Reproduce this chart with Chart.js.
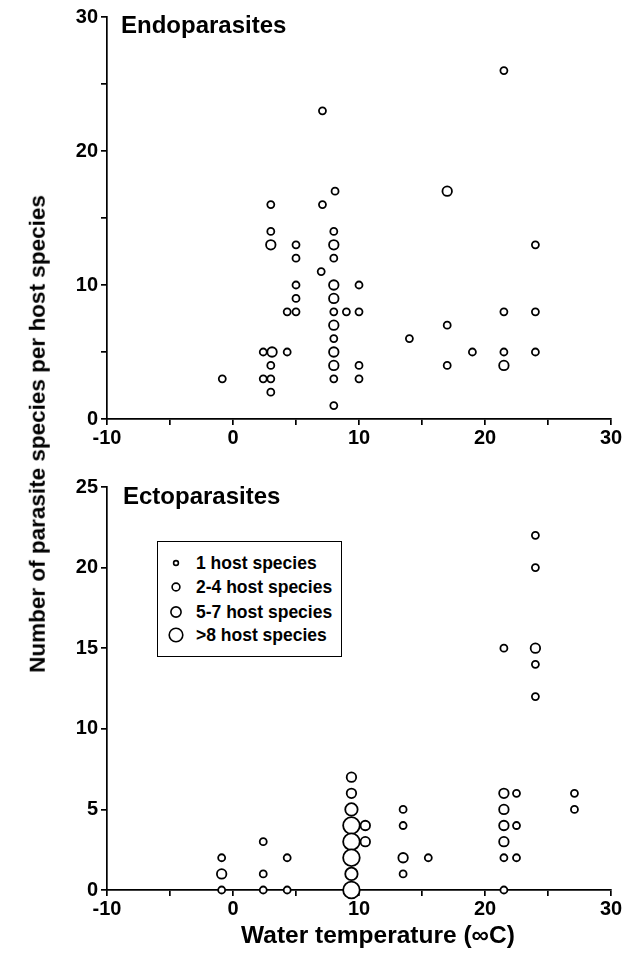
<!DOCTYPE html>
<html><head><meta charset="utf-8">
<script src="https://cdn.jsdelivr.net/npm/chart.js@4"></script>
<style>
html,body{margin:0;padding:0;background:#fff;}
#wrap{position:relative;width:636px;height:955px;overflow:hidden;font-family:"Liberation Sans",Arial,Helvetica,sans-serif;font-weight:bold;color:#000;}
canvas{position:absolute;left:0;}
.lbl{position:absolute;white-space:nowrap;line-height:1;}
#legend{position:absolute;left:157px;top:541px;width:183px;height:114px;border:1.5px solid #000;background:#fff;}
.row{position:absolute;left:0;height:20px;width:183px;}
.row svg{position:absolute;left:8px;top:0;}
.row span{position:absolute;left:38px;top:0;line-height:20px;font-size:17.5px;white-space:nowrap;}
</style></head><body>
<div id="wrap">
<canvas id="top" width="636" height="455" style="top:0;width:636px;height:455px"></canvas>
<canvas id="bot" width="636" height="500" style="top:455px;width:636px;height:500px"></canvas>
<div class="lbl" style="left:121px;top:13px;font-size:24px">Endoparasites</div>
<div class="lbl" style="left:123px;top:484px;font-size:24px">Ectoparasites</div>
<div class="lbl" style="left:38px;top:434px;font-size:22.5px;transform:translate(-50%,-50%) rotate(-90deg)">Number of parasite species per host species</div>
<div class="lbl" style="left:378px;top:935px;font-size:24.5px;transform:translate(-50%,-50%)">Water temperature (∞C)</div>
<div id="legend">
  <div class="row" style="top:11px"><svg width="20" height="20"><circle cx="10" cy="10" r="2.4" fill="#fff" stroke="#000" stroke-width="1.6"/></svg><span>1 host species</span></div>
  <div class="row" style="top:35px"><svg width="20" height="20"><circle cx="10" cy="10" r="3.9" fill="#fff" stroke="#000" stroke-width="1.6"/></svg><span>2-4 host species</span></div>
  <div class="row" style="top:60px"><svg width="20" height="20"><circle cx="10" cy="10" r="5.1" fill="#fff" stroke="#000" stroke-width="1.6"/></svg><span>5-7 host species</span></div>
  <div class="row" style="top:83px"><svg width="20" height="20"><circle cx="10" cy="10" r="6.8" fill="#fff" stroke="#000" stroke-width="1.6"/></svg><span>&gt;8 host species</span></div>
</div>
</div>
<script>
// ---- Data: Endoparasites (top panel) ----
// 1 host species
const endoX1 = [3, 7.1, 7.1, 8.1, 21.5, 3, 5, 8, 5, 8, 7, 5, 10, 5, 4.3, 5, 8, 9, 10, 8, 2.4, 4.3, 3, 10, -0.85, 2.4, 3, 8, 10, 3, 8, 24, 21.5, 24, 17, 14, 19, 21.5, 24, 17];
const endoY1 = [16, 16, 23, 17, 26, 14, 13, 14, 12, 12, 11, 10, 10, 9, 8, 8, 8, 8, 8, 6, 5, 5, 4, 4, 3, 3, 3, 3, 3, 2, 1, 13, 8, 8, 7, 6, 5, 5, 5, 4];
// 2-4 host species
const endoX2 = [3, 8, 8, 8, 8, 3.1, 8, 8, 21.5, 17];
const endoY2 = [13, 13, 10, 9, 7, 5, 5, 4, 4, 17];

// ---- Data: Ectoparasites (bottom panel) ----
// 1 host species
const ectoX1 = [-0.9, -0.9, 2.4, 2.4, 2.4, 4.3, 4.3, 24, 24, 21.5, 24, 24, 22.5, 27.1, 27.1, 13.5, 13.5, 22.5, 15.5, 21.5, 22.5, 13.5, 21.5];
const ectoY1 = [2, 0, 3, 1, 0, 2, 0, 22, 20, 15, 14, 12, 6, 6, 5, 5, 4, 4, 2, 2, 2, 1, 0];
// 2-4 host species
const ectoX2 = [-0.9, 9.4, 9.4, 10.5, 10.5, 24, 21.5, 21.5, 21.5, 21.5, 13.5];
const ectoY2 = [1, 7, 6, 4, 3, 15, 6, 5, 4, 3, 2];
// 5-7 host species
const ectoX3 = [9.4, 9.4];
const ectoY3 = [5, 1];
// >8 host species
const ectoX4 = [9.4, 9.4, 9.4, 9.4];
const ectoY4 = [4, 3, 2, 0];

// Axis ranges / labels
const xMin = -10, xMax = 30, xStep = 5, xLabelEvery = 10;
const endoYMax = 30, endoLabelEvery = 10;
const ectoYMax = 25, ectoLabelEvery = 5;

const FONT = "'Liberation Sans', Arial, Helvetica, sans-serif";
const RADII = [3.5, 4.75, 6.2, 8.3];

function ds(xs, ys, r) {
  return {
    data: xs.map((x, i) => ({x: x, y: ys[i]})),
    pointRadius: r, pointHoverRadius: r,
    pointBorderWidth: 1.8, pointBorderColor: '#000', pointBackgroundColor: '#fff',
    pointStyle: 'circle', showLine: false, clip: false
  };
}

function makeChart(id, datasets, yMax, yEvery, pad) {
  const tickFont = {family: FONT, weight: 'bold', size: 20};
  const grid = {drawOnChartArea: false, drawTicks: true, tickLength: 6, color: '#000', lineWidth: 1.7};
  const border = {display: true, color: '#000', width: 1.7};
  return new Chart(document.getElementById(id), {
    type: 'scatter',
    data: {datasets: datasets},
    options: {
      responsive: false, animation: false, devicePixelRatio: 1,
      layout: {padding: pad},
      plugins: {legend: {display: false}, tooltip: {enabled: false}},
      scales: {
        x: {
          type: 'linear', min: xMin, max: xMax,
          ticks: {stepSize: xStep, autoSkip: false, maxRotation: 0, padding: 1, color: '#000', font: tickFont,
                  callback: v => (v % xLabelEvery === 0 ? String(v) : '')},
          grid: grid, border: border,
          afterFit: s => { s.height = 36; }
        },
        y: {
          type: 'linear', min: 0, max: yMax,
          ticks: {stepSize: 5, autoSkip: false, padding: 3, color: '#000', font: tickFont,
                  callback: v => (v % yEvery === 0 ? String(v) : '')},
          grid: grid, border: border,
          afterFit: s => { s.width = 107; }
        }
      }
    }
  });
}

makeChart('top', [
  ds(endoX2, endoY2, RADII[1]),
  ds(endoX1, endoY1, RADII[0])
], endoYMax, endoLabelEvery, {left: 0, right: 25, top: 17, bottom: 0});

makeChart('bot', [
  ds(ectoX4, ectoY4, RADII[3]),
  ds(ectoX3, ectoY3, RADII[2]),
  ds(ectoX2, ectoY2, RADII[1]),
  ds(ectoX1, ectoY1, RADII[0])
], ectoYMax, ectoLabelEvery, {left: 0, right: 25, top: 32, bottom: 29});
</script>
</body></html>
